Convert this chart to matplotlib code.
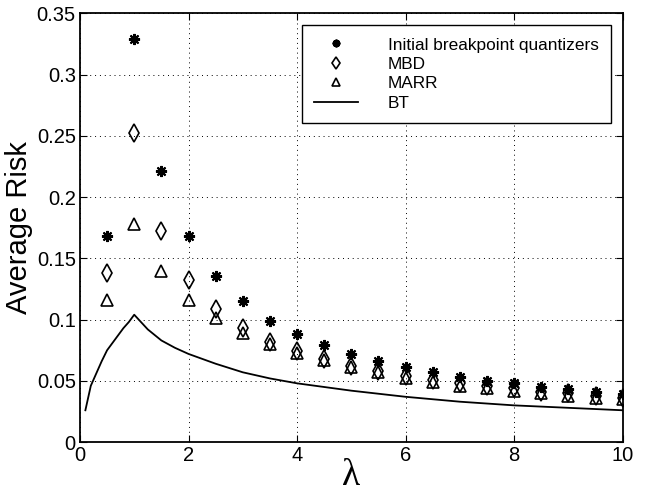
import matplotlib
matplotlib.use("Agg")
import matplotlib.pyplot as plt

plt.rcParams["font.family"] = ["Liberation Sans", "DejaVu Sans"]

lam = [0.5, 1.0, 1.5, 2.0, 2.5, 3.0, 3.5, 4.0, 4.5, 5.0,
       5.5, 6.0, 6.5, 7.0, 7.5, 8.0, 8.5, 9.0, 9.5, 10.0]
initial = [0.168, 0.329, 0.221, 0.168, 0.136, 0.115, 0.099, 0.088, 0.079, 0.072,
           0.066, 0.061, 0.057, 0.053, 0.050, 0.048, 0.045, 0.043, 0.041, 0.039]
mbd = [0.138, 0.252, 0.172, 0.132, 0.109, 0.093, 0.082, 0.074, 0.068, 0.062,
       0.058, 0.054, 0.051, 0.048, 0.046, 0.044, 0.041, 0.040, 0.038, 0.036]
marr = [0.116, 0.178, 0.140, 0.116, 0.101, 0.089, 0.080, 0.073, 0.067, 0.061,
        0.057, 0.052, 0.049, 0.046, 0.044, 0.042, 0.040, 0.038, 0.036, 0.035]

lam_bt = [0.1, 0.2, 0.3, 0.4, 0.5, 0.6, 0.7, 0.8, 0.9, 1.0, 1.25, 1.5, 1.75,
          2.0, 2.5, 3.0, 3.5, 4.0, 5.0, 6.0, 7.0, 8.0, 9.0, 10.0]
bt = [0.026, 0.046, 0.056, 0.066, 0.075, 0.081, 0.087, 0.093, 0.098, 0.104, 0.092,
      0.083, 0.077, 0.072, 0.064, 0.057, 0.052, 0.048, 0.042, 0.037, 0.033,
      0.030, 0.028, 0.026]

fig = plt.figure(figsize=(6.5, 4.94), dpi=100)
ax = fig.add_axes([0.123, 0.105, 0.835, 0.868])

ax.plot(lam, initial, linestyle="none", marker=(8, 2, 0), ms=8, mew=1.5,
        color="black", label="Initial breakpoint quantizers")
ax.plot(lam, mbd, linestyle="none", marker="d", ms=9, mew=1.2,
        mfc="none", mec="black", label="MBD")
ax.plot(lam, marr, linestyle="none", marker="^", ms=8, mew=1.2,
        mfc="none", mec="black", label="MARR")
ax.plot(lam_bt, bt, color="black", linewidth=1.3, label="BT")

ax.set_xlim(0, 10)
ax.set_ylim(0, 0.35)
ax.set_xticks([0, 2, 4, 6, 8, 10])
ax.set_yticks([0, 0.05, 0.1, 0.15, 0.2, 0.25, 0.3, 0.35])
ax.set_yticklabels(["0", "0.05", "0.1", "0.15", "0.2", "0.25", "0.3", "0.35"])
ax.tick_params(direction="in", top=True, right=True, labelsize=14.5, length=5, pad=3)
ax.grid(True, color="black", linestyle=(0, (1, 4)), linewidth=0.7)
for s in ax.spines.values():
    s.set_linewidth(1.3)

ax.set_xlabel("λ", fontsize=27, family=["Liberation Serif", "DejaVu Serif"])
ax.xaxis.set_label_coords(0.5, -0.119, transform=ax.transAxes)
ax.xaxis.label.set_va("bottom")
ax.set_ylabel("Average Risk", fontsize=21)
ax.yaxis.set_label_coords(-0.087, 0.5)

leg = ax.legend(loc="upper right", fontsize=12.4, frameon=True, fancybox=False,
                edgecolor="black", framealpha=1, borderaxespad=0.7, borderpad=0.7,
                handlelength=2.6, handletextpad=1.7, labelspacing=0.25,
                markerscale=0.7)
leg.get_frame().set_linewidth(1.0)

fig.savefig("out.png", dpi=100)
